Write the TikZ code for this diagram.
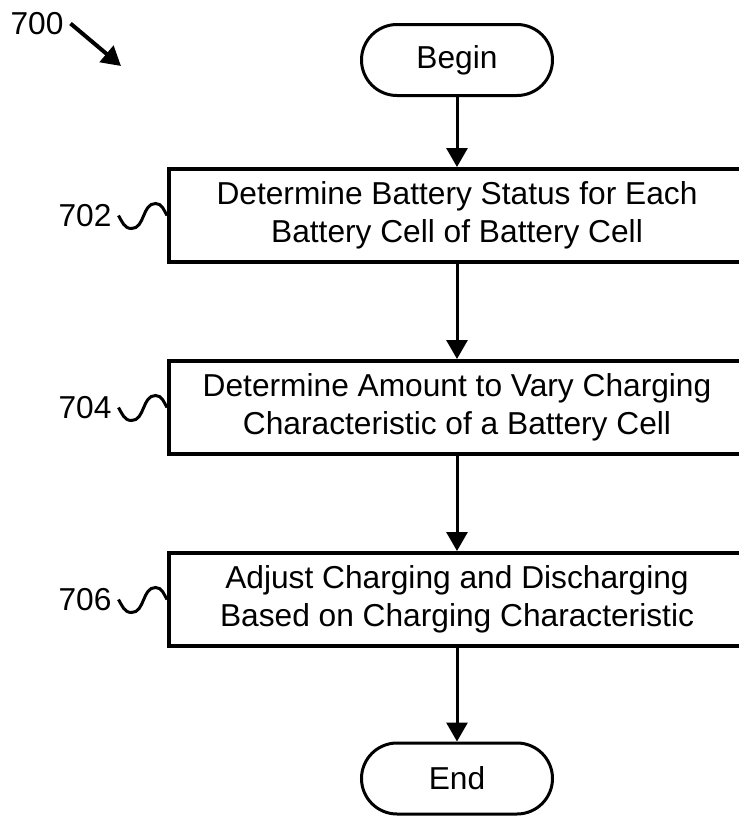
\documentclass[tikz,border=0pt]{standalone}
\usepackage{fontspec}
\setmainfont{Liberation Sans}
\usepackage{tikz}
\usetikzlibrary{shapes.geometric, arrows.meta}
\tikzstyle{startstop} = [rectangle, rounded corners=17.75pt, minimum width=95.5pt, minimum height=35.5pt, text centered, draw=black, line width=1.5pt]
\tikzstyle{process} = [rectangle, minimum width=288pt, minimum height=46.5pt, text centered, align=center, draw=black, line width=2pt]
\tikzstyle{refnum} = [text centered]
\tikzstyle{wave} = [line width=1.5pt]
\tikzstyle{arrow} = [line width=1.5pt, -{Triangle[width=10.5pt,length=9.5pt]}]

\begin{document}
\begin{tikzpicture}[node distance=96pt, font=\fontsize{15.85pt}{19pt}\selectfont]
\useasboundingbox (0,0) rectangle (369.5pt,-408pt);
\node (start) [startstop] at (228.5pt,-30pt) {Begin};
\node (pro1) [process, below of=start, yshift=18.25pt] {Determine Battery Status for Each\\Battery Cell of Battery Cell};
\node (pro2) [process, below of=pro1] {Determine Amount to Vary Charging\\Characteristic of a Battery Cell};
\node (pro3) [process, below of=pro2] {Adjust Charging and Discharging\\Based on Charging Characteristic};
\node (stop) [startstop, below of=pro3, yshift=6.5pt] {End};

\node (n700) [refnum] at (18.5pt,-11.75pt) {700};
\coordinate (p700) at (60.5pt,-33pt);
\node (n702) [refnum, left of=pro1, xshift=-90pt] {702};
\node (n704) [refnum, left of=pro2, xshift=-90pt] {704};
\node (n706) [refnum, left of=pro3, xshift=-90pt] {706};

\draw [arrow, line width=2pt] (n700.east) -- (p700);
\draw [arrow] (start) -- (pro1);
\draw [arrow] (pro1) -- (pro2);
\draw [arrow] (pro2) -- (pro3);
\draw [arrow] (pro3) -- (stop);
\draw [wave] (n702.east) to[out=-60,in=180] ++(6.5pt,-6.5pt) to[out=0,in=180] ++(12pt,12.5pt) to[out=0,in=120] (pro1.west);
\draw [wave] (n704.east) to[out=-60,in=180] ++(6.5pt,-6.5pt) to[out=0,in=180] ++(12pt,12.5pt) to[out=0,in=120] (pro2.west);
\draw [wave] (n706.east) to[out=-60,in=180] ++(6.5pt,-6.5pt) to[out=0,in=180] ++(12pt,12.5pt) to[out=0,in=120] (pro3.west);
\end{tikzpicture}
\end{document}
